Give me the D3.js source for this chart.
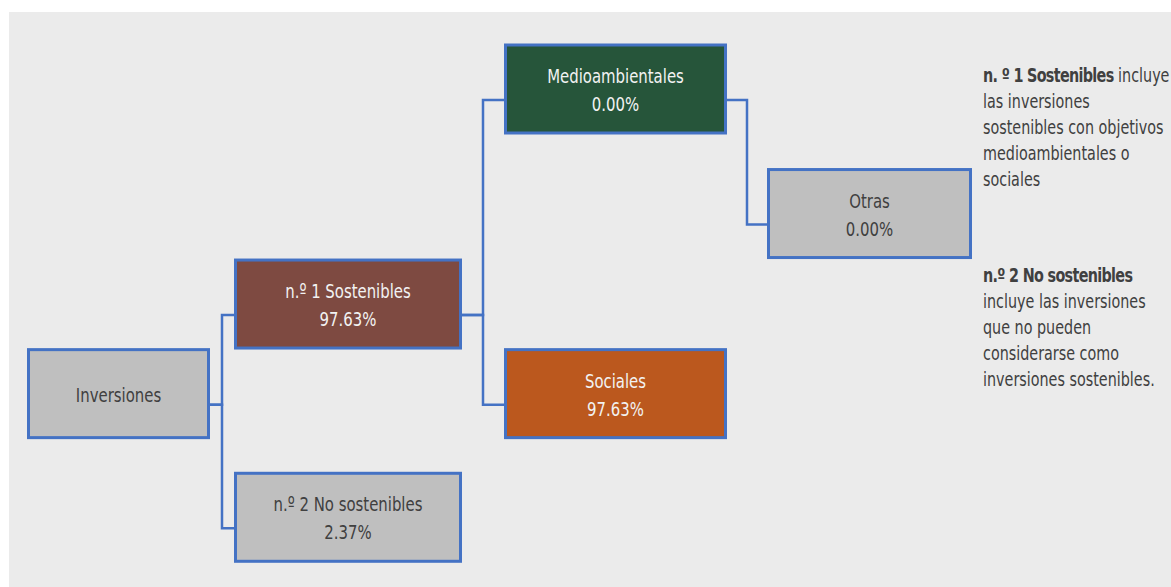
<!DOCTYPE html>
<html><head><meta charset="utf-8">
<script src="https://cdn.jsdelivr.net/npm/d3@7"></script>
<style>
html,body{margin:0;padding:0;background:#fff;}
svg{display:block;}
text{font-family:"DejaVu Sans Condensed","DejaVu Sans",sans-serif;font-stretch:condensed;}
</style></head>
<body>
<svg id="chart" width="1171" height="587"></svg>
<script>
// ---- data ----
const nodeIds    = ["inv", "n1", "n2", "med", "soc", "otras"];
const nodeParents= [null, "inv", "inv", "n1", "n1", "med"];
const nodeLabels = ["Inversiones", "n.º 1 Sostenibles", "n.º 2 No sostenibles", "Medioambientales", "Sociales", "Otras"];
const nodeValues = [null, 97.63, 2.37, 0.00, 97.63, 0.00];
const nodeFills  = ["#BFBFBF", "#7E4A41", "#BFBFBF", "#26553A", "#BB581E", "#BFBFBF"];
const nodeTextColors = ["#404040", "#F2F2F2", "#404040", "#F2F2F2", "#F2F2F2", "#404040"];
// layout slots (column index, row index)
const nodeCols = [0, 1, 1, 2, 2, 3];
const nodeRows = [3.4, 2.4, 4.78, 0, 3.4, 1.39];
const colLefts  = [27, 234, 504, 767];
const colWidths = [183, 228, 223, 205];
const noteParas = [
  [{t:"n. º 1 Sostenibles", b:true},{t:" incluye", b:false}],
  [{t:"las inversiones"}],[{t:"sostenibles con objetivos"}],[{t:"medioambientales o"}],[{t:"sociales"}]
];
const noteParas2 = [
  [{t:"n.º 2 No sostenibles", b:true}],
  [{t:"incluye las inversiones"}],[{t:"que no pueden"}],[{t:"considerarse como"}],[{t:"inversiones sostenibles."}]
];

const W = 1171, H = 587;
const svg = d3.select("#chart");
svg.append("rect").attr("x",9).attr("y",12).attr("width",W-9).attr("height",H-12).attr("fill","#EBEBEB");

const boxH = 91;
const y = d3.scaleLinear().domain([0, 1]).range([89, 89 + 89.6]); // row -> center y

const table = nodeIds.map((id,i)=>({id, parent:nodeParents[i], label:nodeLabels[i], value:nodeValues[i],
  fill:nodeFills[i], tc:nodeTextColors[i], col:nodeCols[i], row:nodeRows[i]}));
const root = d3.stratify().id(d=>d.id).parentId(d=>d.parent)(table);
root.each(n=>{
  const d=n.data;
  n.x0 = colLefts[d.col]; n.w = colWidths[d.col];
  n.cy = y(d.row);
});

const anchorOff = 11;
const linkG = svg.append("g");
root.links().forEach(l=>{
  const s=l.source, t=l.target;
  const x1 = s.x0 + s.w, y1 = s.cy + anchorOff;
  const x2 = t.x0, y2 = t.cy + anchorOff;
  const mx = (x1 + x2)/2;
  const p = d3.path();
  p.moveTo(x1,y1); p.lineTo(mx,y1); p.lineTo(mx,y2); p.lineTo(x2,y2);
  linkG.append("path").attr("d",p.toString()).attr("fill","none")
    .attr("stroke","#4472C4").attr("stroke-width",2.5);
});

const fmt = d3.format(".2f");
const sx = 0.85;
const nodeG = svg.append("g").selectAll("g").data(root.descendants()).join("g");
nodeG.append("rect")
  .attr("x",d=>d.x0+1.5).attr("y",d=>d.cy-boxH/2+1.5)
  .attr("width",d=>d.w-3).attr("height",boxH-3)
  .attr("fill",d=>d.data.fill).attr("stroke","#4472C4").attr("stroke-width",3);
nodeG.each(function(d){
  const g=d3.select(this);
  const cx = d.x0 + d.w/2;
  const lines = d.data.value==null ? [d.data.label] : [d.data.label, fmt(d.data.value)+"%"];
  const offs = lines.length===1 ? [1] : [-13, 15];
  lines.forEach((t,i)=>{
    g.append("text").attr("transform",`translate(${cx},${d.cy+offs[i]}) scale(${sx},1)`)
      .attr("text-anchor","middle")
      .attr("dominant-baseline","central").attr("font-size",19.5).attr("fill",d.data.tc).text(t);
  });
});

function drawNote(paras, y0){
  const t = svg.append("text").attr("transform","translate(983,0) scale(0.84,1)")
    .attr("font-size",19).attr("fill","#404040");
  paras.forEach((line,i)=>{
    line.forEach((seg,j)=>{
      const ts = t.append("tspan").text(seg.t).attr("font-weight",seg.b?"bold":"normal");
      if(seg.b) ts.attr("letter-spacing",-0.8);
      if(j===0) ts.attr("x",0).attr("y",y0+i*26);
    });
  });
  t.selectAll("tspan").attr("dominant-baseline","central");
}
drawNote(noteParas, 76);
drawNote(noteParas2, 276);
</script>
</body></html>
